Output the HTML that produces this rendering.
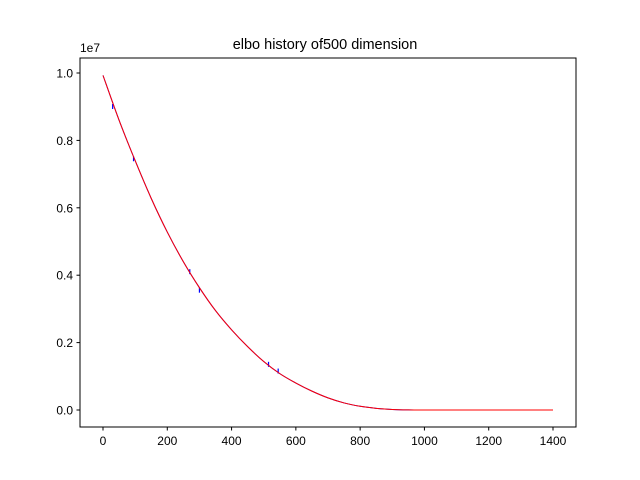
<!DOCTYPE html>
<html><head><meta charset="utf-8"><style>body{margin:0;background:#fff}svg{display:block;font-family:"Liberation Sans","DejaVu Sans",sans-serif}</style></head>
<body>
<svg id="chart" width="640" height="480">
<rect width="640" height="480" fill="#fff"/>
<text x="325" y="49" text-anchor="middle" font-size="14.5">elbo history of500 dimension</text>
<g id="plot"></g>
<rect x="80" y="58" width="496" height="369" fill="none" stroke="#000" stroke-width="1"/>
<text x="80" y="52" font-size="12">1e7</text>
</svg>
<script>
const xs=[0,50,100,150,200,250,300,350,400,450,500,550,600,650,700,750,800,850,900,950,1000,1100,1200,1300,1400];
const blueVals=[9.93,8.60,7.40,6.28,5.28,4.40,3.63,2.95,2.38,1.88,1.44,1.08,0.80,0.56,0.36,0.21,0.11,0.05,0.016,0.003,0,0,0,0,0];
const redVals=[9.93,8.60,7.40,6.28,5.28,4.40,3.63,2.95,2.38,1.88,1.44,1.08,0.80,0.56,0.36,0.21,0.11,0.05,0.016,0.003,0,0,0,0,0];
const spikeXs=[30,95,270,300,515,545];
const spikeVals=[9.05,7.5,4.15,3.6,1.4,1.2];
const xTicks=[0,200,400,600,800,1000,1200,1400];
const yTicks=[0,0.2,0.4,0.6,0.8,1.0];
const X=v=>103+v*(450/1400);
const Y=v=>410-v*33.7;
const NS='http://www.w3.org/2000/svg';
const svg=document.getElementById('chart'),g=document.getElementById('plot');
function el(t,a,p){const e=document.createElementNS(NS,t);for(const k in a)e.setAttribute(k,a[k]);(p||svg).appendChild(e);return e;}
xTicks.forEach(t=>{const l=el('line',{x1:X(t),x2:X(t),y1:427,y2:430.5,stroke:'#000'});


const tx=el('text',{x:X(t),y:445,'text-anchor':'middle','font-size':12});tx.textContent=t;

});
yTicks.forEach(t=>{const l=el('line',{x1:76.5,x2:80,y1:Y(t*10),y2:Y(t*10),stroke:'#000'});


const tx=el('text',{x:73,y:Y(t*10)+4.5,'text-anchor':'end','font-size':12});tx.textContent=t.toFixed(1);

});
function smooth(vals){const P=xs.map((x,i)=>[X(x),Y(vals[i])]);let d='M'+P[0].join(',');
for(let i=0;i<P.length-1;i++){const p0=P[i-1]||P[i],p1=P[i],p2=P[i+1],p3=P[i+2]||p2;
const c1=[p1[0]+(p2[0]-p0[0])/6,p1[1]+(p2[1]-p0[1])/6],c2=[p2[0]-(p3[0]-p1[0])/6,p2[1]-(p3[1]-p1[1])/6];
d+=' C'+c1.join(',')+' '+c2.join(',')+' '+p2.join(',');}return d;}
function line(vals,c,name){const p=el('path',{d:smooth(vals),fill:'none',stroke:c,'stroke-width':1},g);

}
line(blueVals,'#0000ff','blue-series-line');
spikeXs.forEach((x,i)=>{const s=el('line',{x1:X(x),x2:X(x),y1:Y(spikeVals[i])-1,y2:Y(spikeVals[i])+4,stroke:'#0000ff','stroke-width':1.2},g);

});
line(redVals,'#ff0000','red-series-line');
</script>
</body></html>
